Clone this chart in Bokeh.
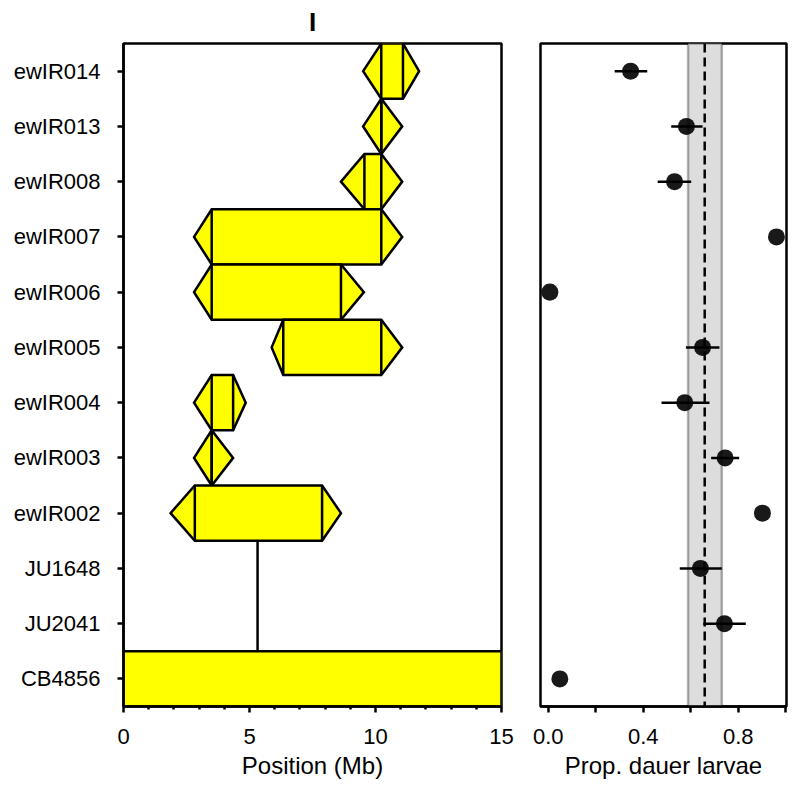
import numpy as np
from bokeh.plotting import figure
from bokeh.layouts import row
from bokeh.models import Range1d, FixedTicker, BoxAnnotation, Span, PrintfTickFormatter
from bokeh.embed import file_html
from bokeh.resources import INLINE

# ---------------- data ----------------
strains = ["ewIR014", "ewIR013", "ewIR008", "ewIR007", "ewIR006", "ewIR005",
           "ewIR004", "ewIR003", "ewIR002", "JU1648", "JU2041", "CB4856"]
rows = list(range(len(strains), 0, -1))  # top row = 12 ... bottom row = 1

# introgression intervals (Mb) for ewIR lines (top to bottom)
intro_strains = ["ewIR014", "ewIR013", "ewIR008", "ewIR007", "ewIR006",
                 "ewIR005", "ewIR004", "ewIR003", "ewIR002"]
left_outer = [9.51, 9.51, 8.63, 2.80, 2.80, 5.88, 2.80, 2.80, 1.87]
left_inner = [10.23, 10.23, 9.56, 3.50, 3.50, 6.34, 3.50, 3.50, 2.83]
right_inner = [11.09, 10.23, 10.23, 10.23, 8.63, 10.23, 4.35, 3.50, 7.88]
right_outer = [11.73, 11.06, 11.06, 11.06, 9.54, 11.06, 4.85, 4.35, 8.63]

chrom_start, chrom_end = 0.0, 15.0          # CB4856 chromosome I
marker_pos = 5.32                            # vertical marker line
marker_from, marker_to = "CB4856", "ewIR002"

# proportion dauer larvae
prop = [0.347, 0.582, 0.532, 0.961, 0.007, 0.650, 0.575, 0.745, 0.902, 0.641, 0.742, 0.049]
err_lo = [0.280, 0.518, 0.461, np.nan, np.nan, 0.580, 0.477, 0.686, np.nan, 0.554, 0.653, np.nan]
err_hi = [0.417, 0.650, 0.602, np.nan, np.nan, 0.721, 0.679, 0.804, np.nan, 0.731, 0.832, np.nan]
ref_mean, ref_lo, ref_hi = 0.659, 0.589, 0.731

x_major = [0, 5, 10, 15]
x_minor = [v for v in range(1, 15) if v not in x_major]
p_major = [0.0, 0.4, 0.8]
p_minor = [0.2, 0.6, 1.0]

FONT = "Liberation Sans"
YELLOW = "#ffff00"
LW = 2.5
row_of = dict(zip(strains, rows))
half = 0.5

# ---------------- left panel ----------------
p1 = figure(frame_width=378, frame_height=663,
            x_range=Range1d(chrom_start, chrom_end), y_range=Range1d(0.5, len(strains) + 0.5),
            output_backend="svg", toolbar_location=None,
            min_border_left=123, min_border_right=19, min_border_top=43, min_border_bottom=76,
            title="I")
p1.title.align = "center"
p1.title.vertical_align = "top"
p1.title.text_font = FONT
p1.title.text_font_size = "26px"
p1.title.text_font_style = "bold"
p1.title.text_color = "black"
p1.title.standoff = 10

# CB4856 background
yb = row_of["CB4856"]
p1.quad(left=[chrom_start], right=[chrom_end], bottom=[yb - half], top=[yb + half],
        fill_color=YELLOW, line_color="black", line_width=LW)
# vertical marker line
p1.segment(x0=[marker_pos], x1=[marker_pos],
           y0=[row_of[marker_from] + half], y1=[row_of[marker_to] - half],
           line_color="black", line_width=LW)

xs, ys, ycs = [], [], []
for s, lo, li, ri, ro in zip(intro_strains, left_outer, left_inner, right_inner, right_outer):
    y = row_of[s]
    xs.append([lo, li, ri, ro, ri, li])
    ys.append([y, y + half, y + half, y, y - half, y - half])
    ycs.append(y)
p1.patches(xs=xs, ys=ys, fill_color=YELLOW, line_color="black", line_width=LW, line_join="miter")
ycs = np.array(ycs)
p1.segment(x0=left_inner, x1=left_inner, y0=ycs - half, y1=ycs + half, line_color="black", line_width=LW)
p1.segment(x0=right_inner, x1=right_inner, y0=ycs - half, y1=ycs + half, line_color="black", line_width=LW)

p1.yaxis.ticker = FixedTicker(ticks=rows)
p1.yaxis.major_label_overrides = {r: s for r, s in zip(rows, strains)}
p1.xaxis.ticker = FixedTicker(ticks=x_major, minor_ticks=x_minor)
p1.xaxis.axis_label = "Position (Mb)"

# ---------------- right panel ----------------
p2 = figure(frame_width=246, frame_height=663,
            x_range=Range1d(-0.0324, 1.0034), y_range=Range1d(0.5, len(strains) + 0.5),
            output_backend="svg", toolbar_location=None,
            min_border_left=20, min_border_right=4, min_border_top=43, min_border_bottom=76)
p2.add_layout(BoxAnnotation(left=ref_lo, right=ref_hi, fill_color="#dddddd", fill_alpha=1.0,
                            line_color="black", line_width=LW, level="underlay"))
p2.add_layout(Span(location=ref_mean, dimension="height", line_color="black",
                   line_width=LW, line_dash="9 5"))
p2.segment(x0=err_lo, x1=err_hi, y0=rows, y1=rows, line_color="black", line_width=LW)
p2.scatter(x=prop, y=rows, size=17, fill_color="black", fill_alpha=0.9, line_color=None)
p2.yaxis.visible = False
p2.xaxis.ticker = FixedTicker(ticks=p_major, minor_ticks=p_minor)
p2.xaxis.formatter = PrintfTickFormatter(format="%.1f")
p2.xaxis.axis_label = "Prop. dauer larvae"

for p in (p1, p2):
    p.grid.visible = False
    p.outline_line_color = "black"
    p.outline_line_width = LW
    p.outline_line_alpha = 1
    for ax in p.axis:
        ax.axis_line_color = "black"
        ax.axis_line_width = LW
        ax.major_tick_line_width = LW
        ax.minor_tick_line_width = LW
        ax.major_tick_in = 0
        ax.minor_tick_in = 0
        ax.major_tick_out = 6
        ax.major_label_text_font = FONT
        ax.major_label_text_font_size = "22px"
        ax.major_label_text_color = "black"
        ax.axis_label_text_font = FONT
        ax.axis_label_text_font_size = "24px"
        ax.axis_label_text_font_style = "normal"
        ax.axis_label_text_color = "black"
        ax.axis_label_standoff = 5
    p.xaxis.major_label_standoff = 16
p1.xaxis.minor_tick_out = 3
p2.xaxis.minor_tick_out = 6
p1.yaxis.major_label_standoff = 17

layout = row(p1, p2)
open("out.html", "w").write(file_html(layout, INLINE))
